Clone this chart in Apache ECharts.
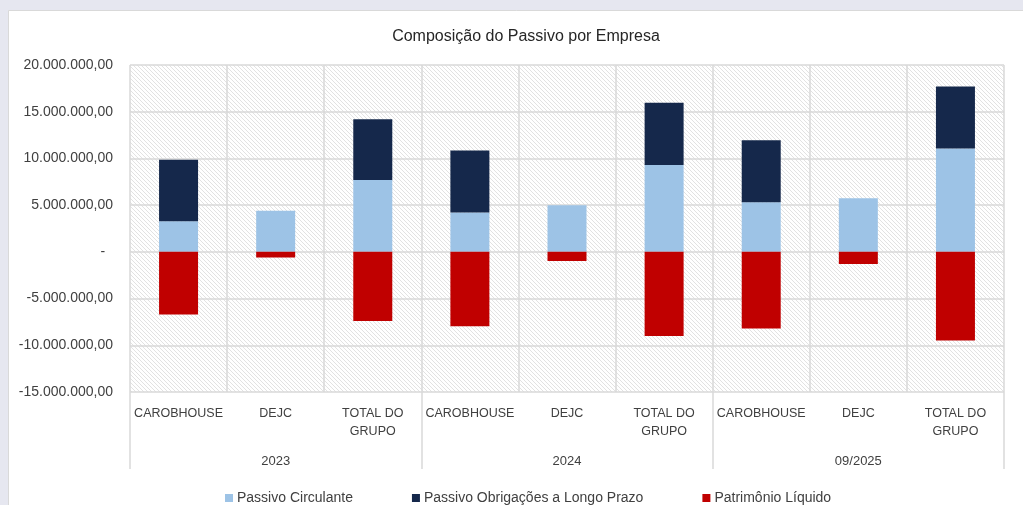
<!DOCTYPE html>
<html>
<head>
<meta charset="utf-8">
<script src="https://cdn.jsdelivr.net/npm/echarts@6/dist/echarts.min.js"></script>
<style>
  html, body { margin: 0; padding: 0; background: #e6e7f0; }
  #chart { width: 1023px; height: 505px; }
</style>
</head>
<body>
<div id="chart"></div>
<script>
// dados do gráfico
const empresas = ['CAROBHOUSE', 'DEJC', 'TOTAL DO\nGRUPO', 'CAROBHOUSE', 'DEJC', 'TOTAL DO\nGRUPO', 'CAROBHOUSE', 'DEJC', 'TOTAL DO\nGRUPO']
const periodos = ['2023', '2024', '09/2025']
const passivoCirculante = [3270000, 4400000, 7700000, 4200000, 5000000, 9300000, 5300000, 5750000, 11060000]
const passivoLongoPrazo = [6580000, 0, 6500000, 6650000, 0, 6650000, 6650000, 0, 6640000]
const patrimonioLiquido = [-6700000, -600000, -7400000, -7950000, -970000, -9000000, -8200000, -1300000, -9500000]
const yTicks = { min: -15000000, max: 20000000, interval: 5000000 }

// formato contábil pt-BR
function fmt(v) {
  if (v === 0) return '-  '
  const neg = v < 0
  const s = Math.abs(v).toFixed(0).replace(/\B(?=(\d{3})+(?!\d))/g, '.')
  return (neg ? '-' : '') + s + ',00'
}

// hachura do fundo da área de plotagem
const hatch = document.createElement('canvas')
hatch.width = 4
hatch.height = 4
const hctx = hatch.getContext('2d')
hctx.fillStyle = '#ffffff'
hctx.fillRect(0, 0, 4, 4)
hctx.fillStyle = '#e2e2e2'
for (let i = 0; i < 4; i++) hctx.fillRect(i, i, 1, 1)

const font = "'Liberation Sans', Arial, sans-serif"
const gridColor = '#d9d9d9'
const textColor = '#404040'

const chart = echarts.init(document.getElementById('chart'))
chart.setOption({
  animation: false,
  textStyle: { fontFamily: font },
  graphic: [{
    type: 'rect',
    left: 8,
    top: 10,
    shape: { width: 1040, height: 520 },
    style: { fill: '#ffffff', stroke: '#d9d9d9', lineWidth: 1 },
    z: -10
  }],
  title: {
    text: 'Composição do Passivo por Empresa',
    left: 521,
    textAlign: 'center',
    top: 24,
    textStyle: { fontSize: 16, fontWeight: 'normal', color: '#262626', fontFamily: font }
  },
  legend: {
    left: 220,
    top: 486,
    itemGap: 59,
    itemWidth: 8,
    itemHeight: 8,
    icon: 'rect',
    textStyle: { fontSize: 14, color: textColor, fontFamily: font, padding: [0, 0, 0, -1] }
  },
  grid: {
    left: 130,
    right: 19,
    top: 65,
    bottom: 113,
    show: true,
    borderWidth: 0,
    backgroundColor: { image: hatch, repeat: 'repeat' }
  },
  xAxis: [{
    type: 'category',
    data: empresas,
    axisLine: { show: false },
    axisTick: { show: false },
    splitLine: { show: true, lineStyle: { color: gridColor, width: 1.5 } },
    axisLabel: { color: textColor, fontSize: 12.5, margin: 13, lineHeight: 18, interval: 0 }
  }, {
    type: 'category',
    data: periodos,
    position: 'bottom',
    axisLine: { show: false },
    axisTick: { show: true, length: 77, lineStyle: { color: gridColor, width: 1.5 } },
    axisLabel: { color: textColor, fontSize: 13, margin: 63 }
  }],
  yAxis: {
    type: 'value',
    min: yTicks.min,
    max: yTicks.max,
    interval: yTicks.interval,
    axisLine: { show: false },
    axisTick: { show: false },
    splitLine: { lineStyle: { color: gridColor, width: 1.5 } },
    axisLabel: { color: textColor, fontSize: 14, margin: 17, formatter: fmt }
  },
  series: [{
    name: 'Passivo Circulante',
    type: 'bar',
    stack: 'total',
    barWidth: 39,
    data: passivoCirculante,
    itemStyle: { color: '#9dc3e6' }
  }, {
    name: 'Passivo Obrigações a Longo Prazo',
    type: 'bar',
    stack: 'total',
    barWidth: 39,
    data: passivoLongoPrazo,
    itemStyle: { color: '#15284b' }
  }, {
    name: 'Patrimônio Líquido',
    type: 'bar',
    stack: 'total',
    barWidth: 39,
    data: patrimonioLiquido,
    itemStyle: { color: '#c00000' }
  }]
})
</script>
</body>
</html>
